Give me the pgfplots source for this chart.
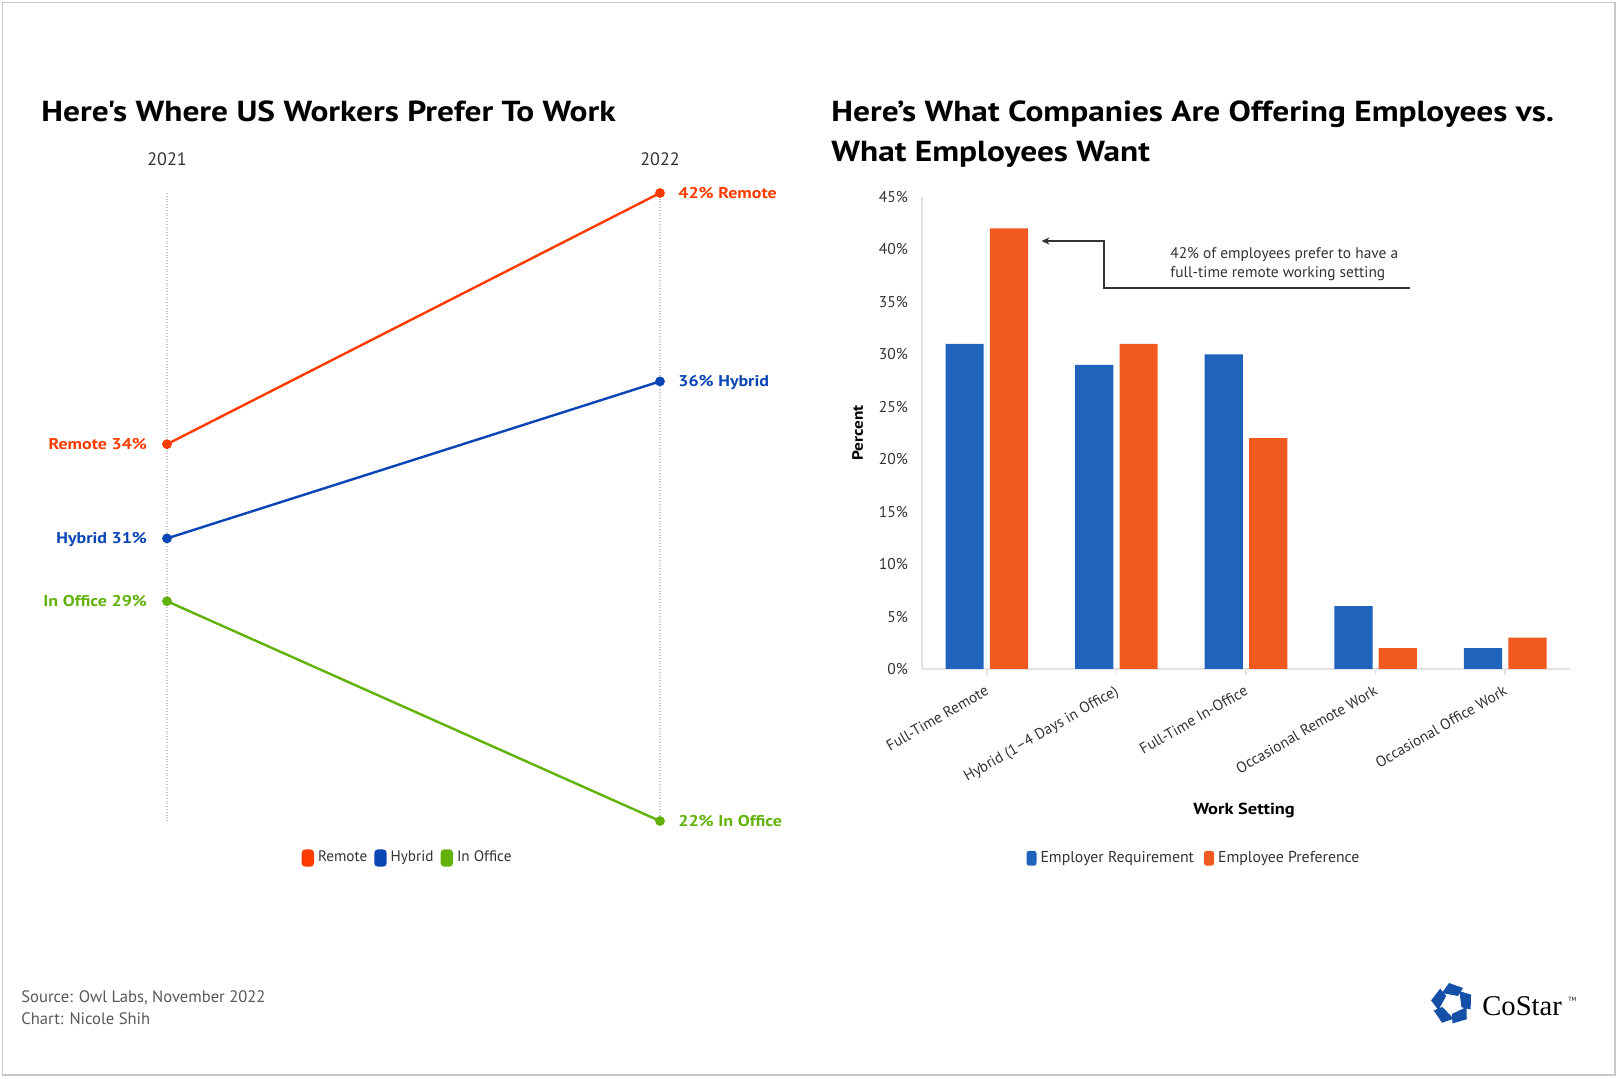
\documentclass[border=0pt]{standalone}
\usepackage{pgfplots}
\pgfplotsset{compat=1.18}
\usetikzlibrary{arrows.meta}
\usepackage{fontspec}
\setmainfont{PT Sans}[Ligatures=TeXOff, BoldFeatures={FakeStretch=1.15}]
\newfontfamily\seriffont{Liberation Serif}
\definecolor{cremote}{HTML}{FF3C00}
\definecolor{chybrid}{HTML}{0A45B5}
\definecolor{coffice}{HTML}{62B20A}
\definecolor{cblue}{HTML}{1F63BD}
\definecolor{corange}{HTML}{F05A1E}
\definecolor{ctext}{HTML}{333333}
\definecolor{cfoot}{HTML}{595959}
\definecolor{cgrid}{HTML}{E3E3E3}
\definecolor{clogo}{HTML}{1550A8}
\definecolor{cborder}{HTML}{C8C8C8}
\begin{document}
\begin{tikzpicture}[x=0.5pt,y=-0.5pt]
\path[fill=white] (0,0) rectangle (1619,1079);
\draw[cborder, line width=0.8pt] (2.5,2.5) rectangle (1615,1075);

% ---------- titles ----------
\node[anchor=base west, inner sep=0, font=\bfseries\fontsize{14.5}{17}\selectfont] at (41,122) {Here's Where US Workers Prefer To Work};
\node[anchor=base west, inner sep=0, font=\bfseries\fontsize{14.5}{17}\selectfont] at (831,122) {Here’s What Companies Are Offering Employees vs.};
\node[anchor=base west, inner sep=0, font=\bfseries\fontsize{14.5}{17}\selectfont] at (831,162) {What Employees Want};

% ---------- left slope chart ----------
\begin{axis}[
  at={(83.5pt,-410.5pt)}, anchor=south west,
  scale only axis, width=246.5pt, height=314pt,
  xmin=0, xmax=1, ymin=22, ymax=42,
  clip=false,
  axis line style={draw=none},
  xtick={0,1}, xticklabels={2021,2022},
  xticklabel pos=upper,
  xticklabel style={font=\fontsize{9}{10}\selectfont, text=ctext, yshift=10pt},
  ytick=\empty,
  major tick length=0pt,
  xmajorgrids,
  major grid style={densely dotted, gray!45, line width=0.6pt},
  legend columns=3,
  legend style={at={(0.49,-0.059)}, anchor=center, draw=none, fill=none,
    font=\fontsize{7.6}{9}\selectfont, text=ctext, inner sep=0pt,
    /tikz/every even column/.append style={column sep=1.5pt}},
]
\addplot[cremote, line width=1.2pt, mark=*, mark size=1.8pt,
  legend image code/.code={\fill[cremote, rounded corners=1.3pt] (0pt,-3.7pt) rectangle (5pt,3.7pt);}]
  coordinates {(0,34) (1,42)};
\addlegendentry{Remote}
\addplot[chybrid, line width=1.2pt, mark=*, mark size=1.8pt,
  legend image code/.code={\fill[chybrid, rounded corners=1.3pt] (0pt,-3.7pt) rectangle (5pt,3.7pt);}]
  coordinates {(0,31) (1,36)};
\addlegendentry{Hybrid}
\addplot[coffice, line width=1.2pt, mark=*, mark size=1.8pt,
  legend image code/.code={\fill[coffice, rounded corners=1.3pt] (0pt,-3.7pt) rectangle (5pt,3.7pt);}]
  coordinates {(0,29) (1,22)};
\addlegendentry{In Office}

\node[inner sep=0pt, font=\bfseries\fontsize{7.8}{9.6}\selectfont, anchor=base east, text=cremote] at ([xshift=-9.8pt,yshift=-2.8pt]axis cs:0,34) {Remote 34\%};
\node[inner sep=0pt, font=\bfseries\fontsize{7.8}{9.6}\selectfont, anchor=base east, text=chybrid] at ([xshift=-9.8pt,yshift=-2.8pt]axis cs:0,31) {Hybrid 31\%};
\node[inner sep=0pt, font=\bfseries\fontsize{7.8}{9.6}\selectfont, anchor=base east, text=coffice] at ([xshift=-9.8pt,yshift=-2.8pt]axis cs:0,29) {In Office 29\%};
\node[inner sep=0pt, font=\bfseries\fontsize{7.8}{9.6}\selectfont, anchor=base west, text=cremote] at ([xshift=9pt,yshift=-2.8pt]axis cs:1,42) {42\% Remote};
\node[inner sep=0pt, font=\bfseries\fontsize{7.8}{9.6}\selectfont, anchor=base west, text=chybrid] at ([xshift=9pt,yshift=-2.8pt]axis cs:1,36) {36\% Hybrid};
\node[inner sep=0pt, font=\bfseries\fontsize{7.8}{9.6}\selectfont, anchor=base west, text=coffice] at ([xshift=9pt,yshift=-2.8pt]axis cs:1,22) {22\% In Office};
\end{axis}

% ---------- right bar chart ----------
\begin{axis}[
  at={(461pt,-334.5pt)}, anchor=south west,
  scale only axis, width=324pt, height=236pt,
  xmin=-0.5, xmax=4.5, ymin=0, ymax=45,
  ybar=3.1pt, bar width=19.1pt,
  axis lines*=left,
  axis line style={cgrid, line width=0.8pt},
  xtick={0,1,2,3,4},
  xticklabels={{Full-Time Remote},{Hybrid (1–4 Days in Office)},{Full-Time In-Office},{Occasional Remote Work},{Occasional Office Work}},
  xticklabel style={rotate=30, anchor=north east, font=\fontsize{7.6}{9}\selectfont, text=ctext},
  x tick style={cgrid, line width=0.8pt},
  xtick align=outside,
  major tick length=3pt,
  ytick={0,5,...,45},
  yticklabels={0\%,5\%,10\%,15\%,20\%,25\%,30\%,35\%,40\%,45\%},
  yticklabel style={font=\fontsize{7.8}{9}\selectfont, text=ctext, xshift=-3.5pt},
  y tick style={draw=none},
  xlabel={Work Setting},
  xlabel style={at={(axis description cs:0.497,-0.299)}, anchor=center, font=\bfseries\fontsize{8}{9.6}\selectfont},
  ylabel={Percent},
  ylabel style={at={(axis description cs:-0.0992,0.5)}, anchor=center, font=\bfseries\fontsize{7.5}{9}\selectfont},
  legend columns=2,
  legend style={at={(0.4213,-0.401)}, anchor=center, draw=none, fill=none,
    font=\fontsize{7.9}{9}\selectfont, text=ctext, inner sep=0pt,
    /tikz/every even column/.append style={column sep=3pt}},
]
\addplot[fill=cblue, draw=none,
  legend image code/.code={\fill[cblue, rounded corners=1.3pt] (0pt,-3.7pt) rectangle (5pt,3.7pt);}]
  coordinates {(0,31) (1,29) (2,30) (3,6) (4,2)};
\addlegendentry{Employer Requirement}
\addplot[fill=corange, draw=none,
  legend image code/.code={\fill[corange, rounded corners=1.3pt] (0pt,-3.7pt) rectangle (5pt,3.7pt);}]
  coordinates {(0,42) (1,31) (2,22) (3,2) (4,3)};
\addlegendentry{Employee Preference}
\end{axis}

% annotation
\draw[ctext, line width=0.7pt, -{Stealth[length=4pt,width=3.5pt]}] (1410,288) -- (1104,288) -- (1104,241) -- (1041.5,241);
\node[anchor=west, align=left, inner sep=0, font=\fontsize{7.7}{9.5}\selectfont, text=ctext] at (1170,264.5) {42\% of employees prefer to have a\\full-time remote working setting};

% footer
\node[anchor=base west, inner sep=0, font=\fontsize{8.3}{10}\selectfont, text=cfoot] at (21,1003) {Source: Owl Labs, November 2022};
\node[anchor=base west, inner sep=0, font=\fontsize{8.3}{10}\selectfont, text=cfoot] at (21,1024) {Chart: Nicole Shih};

% logo
\foreach \a in {0,72,144,216,288}{
  \fill[clogo, shift={(1452,1004)}, rotate=\a] (-10,-11) -- (-3,-21) -- (11,-16) -- (6,-8) -- cycle;
}
\node[anchor=base west, inner sep=0, font=\seriffont\fontsize{14.3}{16}\selectfont] at (1482,1015) {CoStar};
\node[anchor=base west, inner sep=0, font=\fontsize{3}{4}\selectfont] at (1568,1001) {TM};
\end{tikzpicture}
\end{document}
